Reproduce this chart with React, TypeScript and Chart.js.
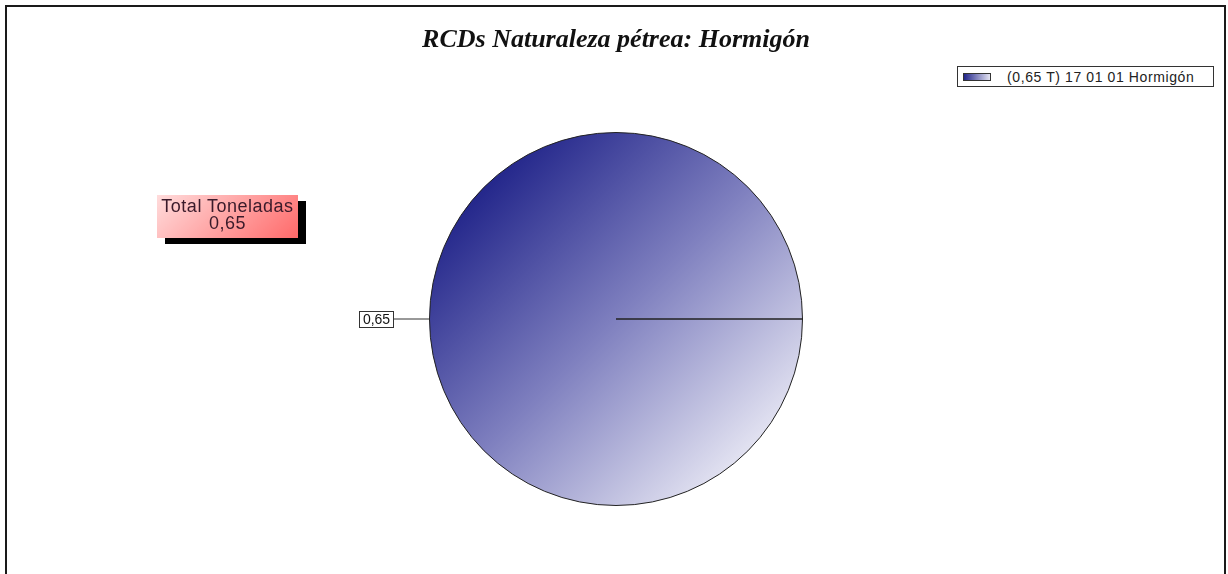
import React, { useEffect, useRef } from "react";
import { Chart, registerables } from "chart.js";

Chart.register(...registerables);

const chartTitle = "RCDs Naturaleza pétrea: Hormigón";
const categories = ["17 01 01 Hormigón"];
const values = [0.65];
const unit = "T";
const totalLabel = "Total Toneladas";

const fmt = (v: number) => v.toFixed(2).replace(".", ",");
const total = values.reduce((a, b) => a + b, 0);

const dataLabelPlugin = {
  id: "dataLabels",
  afterDatasetsDraw(chart: any) {
    const meta = chart.getDatasetMeta(0);
    const ctx = chart.ctx;
    meta.data.forEach((arc: any, i: number) => {
      const p = arc.getProps(["x", "y", "startAngle", "endAngle", "outerRadius"], true);
      const mid = (p.startAngle + p.endAngle) / 2;
      const cos = Math.cos(mid);
      const sin = Math.sin(mid);
      const x0 = p.x + cos * p.outerRadius;
      const y0 = p.y + sin * p.outerRadius;
      const x1 = p.x + cos * (p.outerRadius + 37);
      const y1 = p.y + sin * (p.outerRadius + 37);
      ctx.save();
      ctx.strokeStyle = "#333";
      ctx.lineWidth = 1;
      ctx.beginPath();
      ctx.moveTo(x0, y0);
      ctx.lineTo(x1, y1);
      ctx.stroke();
      const text = fmt(values[i]);
      ctx.font = "14px 'Liberation Sans', Arial, sans-serif";
      const w = Math.round(ctx.measureText(text).width + 7);
      const h = 16;
      const bx = Math.round(cos < 0 ? x1 - w : x1);
      const by = Math.round(y1 - h / 2);
      ctx.fillStyle = "#fff";
      ctx.fillRect(bx, by, w, h);
      ctx.strokeRect(bx + 0.5, by + 0.5, w, h);
      ctx.fillStyle = "#111";
      ctx.textAlign = "center";
      ctx.textBaseline = "middle";
      ctx.fillText(text, bx + w / 2 + 0.5, by + h / 2 + 1);
      ctx.restore();
    });
  },
};

export default function App() {
  const ref = useRef<HTMLCanvasElement>(null);

  useEffect(() => {
    if (!ref.current) return;
    const chart = new Chart(ref.current, {
      type: "pie",
      data: {
        labels: categories,
        datasets: [
          {
            data: values,
            backgroundColor: (c: any) => {
              const ch = c.chart;
              const area = ch.chartArea;
              if (!area) return "#6a6cb5";
              const cx = (area.left + area.right) / 2;
              const cy = (area.top + area.bottom) / 2;
              const r = Math.min(area.right - area.left, area.bottom - area.top) / 2;
              const g = ch.ctx.createLinearGradient(cx - r * 0.72, cy - r * 0.72, cx + r * 0.72, cy + r * 0.72);
              g.addColorStop(0, "#22258a");
              g.addColorStop(0.5, "#7f80bf");
              g.addColorStop(1, "#e4e4f2");
              return g;
            },
            borderColor: "#222",
            borderWidth: 1,
          },
        ],
      },
      options: {
        responsive: false,
        maintainAspectRatio: false,
        animation: false,
        rotation: 90,
        layout: { padding: { top: 132, bottom: 68, left: 4, right: 0 } },
        plugins: {
          legend: { display: false },
          title: { display: false },
          tooltip: { enabled: false },
        },
      },
      plugins: [dataLabelPlugin],
    });
    return () => chart.destroy();
  }, []);

  return (
    <div style={{ position: "absolute", left: 0, top: 0, width: 1228, height: 574, overflow: "hidden", background: "#fff", fontFamily: "'Liberation Sans', Arial, sans-serif" }}>
      <div style={{ position: "absolute", left: 5, top: 5, width: 1221, height: 620, border: "2px solid #1a1a1a", boxSizing: "border-box" }} />
      <canvas ref={ref} width={1228} height={574} style={{ position: "absolute", left: 0, top: 0, width: 1228, height: 574 }} />
      <div style={{ position: "absolute", left: 216, top: 24, width: 800, textAlign: "center", fontFamily: "'Liberation Serif', 'Times New Roman', serif", fontWeight: "bold", fontStyle: "italic", fontSize: 26, color: "#111", lineHeight: "30px" }}>
        {chartTitle}
      </div>
      <div style={{ position: "absolute", left: 957, top: 66, width: 257, height: 21, border: "1px solid #333", boxSizing: "border-box", background: "#fff" }}>
        {categories.map((c, i) => (
          <div key={c} style={{ position: "absolute", left: 5, top: 0, height: 19, display: "flex", alignItems: "center", whiteSpace: "nowrap" }}>
            <div style={{ width: 28, height: 8, border: "1px solid #333", background: "linear-gradient(to right, #22258a, #e4e4f2)", boxSizing: "border-box" }} />
            <span style={{ marginLeft: 16, fontSize: 14, letterSpacing: 0.6, color: "#222" }}>{`(${fmt(values[i])} ${unit}) ${c}`}</span>
          </div>
        ))}
      </div>
      <div style={{ position: "absolute", left: 157, top: 195, width: 141, height: 43, background: "linear-gradient(135deg, #ffdcdc, #ff6a6a)", boxShadow: "8px 6px 0 #000", textAlign: "center", fontSize: 18, letterSpacing: 0.5, color: "#3a1a2a", lineHeight: "17px", paddingTop: 3, boxSizing: "border-box", whiteSpace: "nowrap" }}>
        <div>{totalLabel}</div>
        <div>{fmt(total)}</div>
      </div>
    </div>
  );
}
